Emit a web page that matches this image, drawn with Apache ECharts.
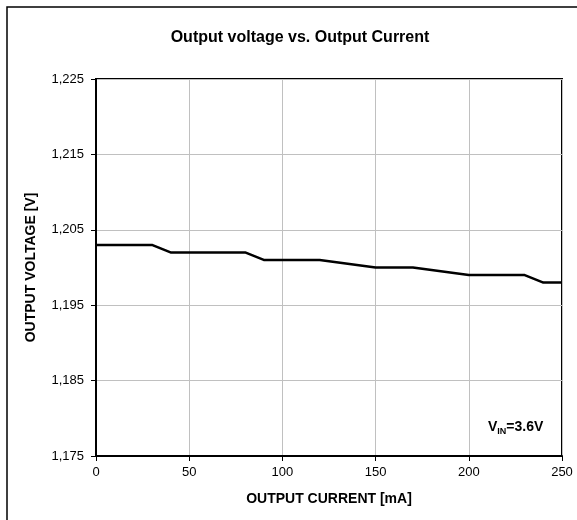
<!DOCTYPE html>
<html>
<head>
<meta charset="utf-8">
<script src="https://cdn.jsdelivr.net/npm/echarts@6/dist/echarts.min.js"></script>
<style>
html,body{margin:0;padding:0;background:#fff;}
#chart{width:577px;height:520px;}
</style>
</head>
<body>
<div id="chart"></div>
<script>
// Data
var currents = [0, 30, 40, 80, 90, 120, 150, 170, 200, 230, 240, 250];           // mA
var voltages = [1.203, 1.203, 1.202, 1.202, 1.201, 1.201, 1.200, 1.200, 1.199, 1.199, 1.198, 1.198]; // V
var xTicks = [0, 50, 100, 150, 200, 250];
var yTicks = [1.175, 1.185, 1.195, 1.205, 1.215, 1.225];

var font = '"Liberation Sans", Arial, sans-serif';
var seriesData = currents.map(function (c, i) { return [c, voltages[i]]; });

var chart = echarts.init(document.getElementById('chart'), null, {renderer: 'canvas'});
chart.setOption({
  backgroundColor: '#fff',
  animation: false,
  title: {
    text: 'Output voltage vs. Output Current',
    left: 295, top: 25, textAlign: 'center',
    textStyle: {fontFamily: font, fontSize: 16, fontWeight: 'bold', color: '#000'}
  },
  grid: {left: 96, right: 15, top: 79, bottom: 64, show: true, borderColor: '#000', borderWidth: 2},
  xAxis: {
    type: 'value', min: xTicks[0], max: xTicks[xTicks.length - 1], interval: 50,
    name: 'OUTPUT CURRENT [mA]', nameLocation: 'middle', nameGap: 36,
    nameTextStyle: {fontFamily: font, fontSize: 14, fontWeight: 'bold', color: '#000'},
    axisLine: {show: true, lineStyle: {color: '#000', width: 2}},
    axisTick: {show: true, length: 5, lineStyle: {color: '#000', width: 1}},
    axisLabel: {fontFamily: font, fontSize: 13, color: '#000', margin: 10},
    splitLine: {show: true, lineStyle: {color: '#c0c0c0', width: 1}}
  },
  yAxis: {
    type: 'value', min: yTicks[0], max: yTicks[yTicks.length - 1], interval: 0.01,
    name: 'OUTPUT VOLTAGE [V]', nameLocation: 'middle', nameGap: 58,
    nameTextStyle: {fontFamily: font, fontSize: 14, fontWeight: 'bold', color: '#000'},
    axisLine: {show: true, lineStyle: {color: '#000', width: 2}},
    axisTick: {show: true, length: 5, lineStyle: {color: '#000', width: 1}},
    axisLabel: {
      fontFamily: font, fontSize: 13, color: '#000', margin: 12,
      formatter: function (v) { return v.toFixed(3).replace('.', ','); }
    },
    splitLine: {show: true, lineStyle: {color: '#c0c0c0', width: 1}}
  },
  series: [{
    type: 'line', data: seriesData, showSymbol: false, symbol: 'none',
    lineStyle: {color: '#000', width: 2.5}, z: 5
  }],
  graphic: [
    {type: 'rect', shape: {x: 7, y: 7, width: 700, height: 700},
     style: {fill: null, stroke: '#000', lineWidth: 1.5}, silent: true, z: -1},
    {type: 'text', left: 488, top: 420,
     style: {
       text: '{a|V}{b|IN}{a|=3.6V}',
       rich: {
         a: {fontFamily: font, fontSize: 14, fontWeight: 'bold', fill: '#000', verticalAlign: 'bottom'},
         b: {fontFamily: font, fontSize: 9, fontWeight: 'bold', fill: '#000', verticalAlign: 'bottom', padding: [0, 0, -2, 0]}
       }
     }, z: 10}
  ]
});
</script>
</body>
</html>
